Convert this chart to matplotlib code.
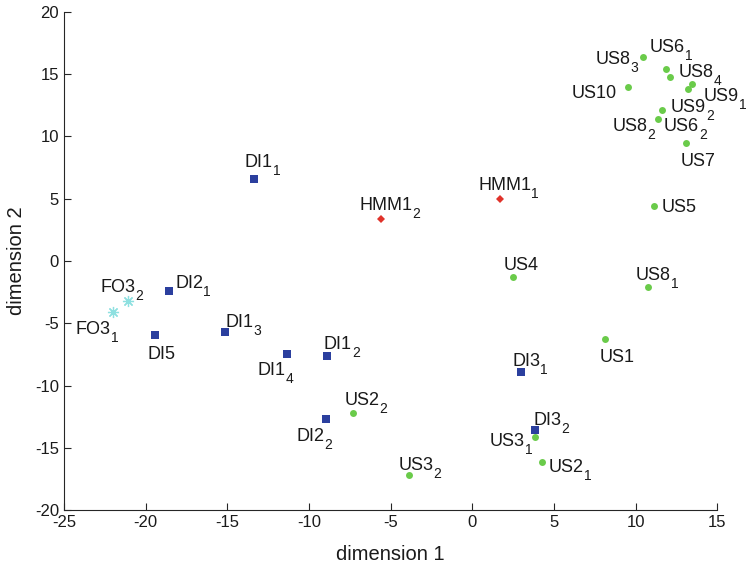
import matplotlib
matplotlib.use("Agg")
import matplotlib.pyplot as plt

plt.rcParams['font.family'] = ['Liberation Sans', 'DejaVu Sans']
plt.rcParams['axes.unicode_minus'] = False

# user study points (green circles)
us_names = ['US8_3', 'US6_1', 'US8_4', 'US10', 'US9_1', 'US6_2', 'US9_2', 'US8_2',
            'US7', 'US5', 'US4', 'US8_1', 'US1', 'US3_1', 'US2_1', 'US3_2', 'US2_2']
us_x = [10.43, 11.84, 12.09, 9.53, 13.45, 13.21, 11.62, 11.35,
        13.06, 11.12, 2.47, 10.74, 8.10, 3.84, 4.24, -3.90, -7.29]
us_y = [16.36, 15.40, 14.80, 13.95, 14.22, 13.84, 12.13, 11.43,
        9.45, 4.45, -1.26, -2.06, -6.29, -14.11, -16.16, -17.16, -12.19]

# DI points (blue squares)
di_names = ['DI1_1', 'DI2_1', 'DI5', 'DI1_3', 'DI1_4', 'DI1_2', 'DI2_2', 'DI3_1', 'DI3_2']
di_x = [-13.37, -18.55, -19.42, -15.12, -11.33, -8.90, -8.94, 2.99, 3.85]
di_y = [6.59, -2.44, -5.97, -5.70, -7.49, -7.60, -12.72, -8.90, -13.57]

# HMM points (red diamonds)
hmm_names = ['HMM1_1', 'HMM1_2']
hmm_x = [1.70, -5.61]
hmm_y = [5.00, 3.37]

# FO points (cyan asterisks)
fo_names = ['FO3_1', 'FO3_2']
fo_x = [-22.0, -21.10]
fo_y = [-4.06, -3.19]

# text offsets in pixels (dx right, dy up) from the marker to the label baseline
label_offsets = {
    'US8_3': (-47, -7), 'US6_1': (-16, 17), 'US8_4': (9, 0), 'US10': (-56, -11),
    'US9_1': (12, -17), 'US6_2': (-24, -42), 'US9_2': (9, -2), 'US8_2': (-45, -12),
    'US7': (-5, -23), 'US5': (8, -6), 'US4': (-9, 7), 'US8_1': (-12, 7),
    'US1': (-5, -23), 'US3_1': (-45, -9), 'US2_1': (7, -10), 'US3_2': (-10, 5),
    'US2_2': (-9, 8),
    'DI1_1': (-9, 12), 'DI2_1': (6, 3), 'DI5': (-8, -24), 'DI1_3': (0, 5),
    'DI1_4': (-30, -21), 'DI1_2': (-3, 7), 'DI2_2': (-30, -22), 'DI3_1': (-9, 6),
    'DI3_2': (-2, 5),
    'HMM1_1': (-22, 9), 'HMM1_2': (-21, 9),
    'FO3_1': (-37, -22), 'FO3_2': (-27, 9),
}

fig = plt.figure(figsize=(7.49, 5.68), dpi=100)
ax = fig.add_axes([0.0854, 0.1021, 0.8723, 0.8768])

ax.plot(us_x, us_y, 'o', color='#6acb4a', markersize=5, markeredgewidth=0)
ax.plot(di_x, di_y, 's', color='#2b3f9e', markersize=5.5, markeredgewidth=0)
ax.plot(hmm_x, hmm_y, 'D', color='#e0322a', markersize=4.5, markeredgewidth=0)
ax.plot(fo_x, fo_y, linestyle='none', marker=(8, 2, 0), color='#8ee0e0',
        markersize=8, markeredgewidth=0.9)

for names, xs, ys in [(us_names, us_x, us_y), (di_names, di_x, di_y),
                      (hmm_names, hmm_x, hmm_y), (fo_names, fo_x, fo_y)]:
    for n, x, y in zip(names, xs, ys):
        base, _, sub = n.partition('_')
        t = ax.annotate(base, (x, y), xytext=label_offsets[n],
                        textcoords='offset pixels', fontsize=13,
                        ha='left', va='baseline', color='#1a1a1a')
        if sub:
            # subscript hangs below the baseline, like MATLAB's tex labels
            ax.annotate(sub, (1, 0), xycoords=t, xytext=(0, -4),
                        textcoords='offset pixels', fontsize=10,
                        ha='left', va='baseline', color='#1a1a1a')

ax.set_xlim(-25, 15)
ax.set_ylim(-20, 20)
ax.set_xticks(range(-25, 16, 5))
ax.set_yticks(range(-20, 21, 5))
ax.spines['top'].set_visible(False)
ax.spines['right'].set_visible(False)
for s in ['left', 'bottom']:
    ax.spines[s].set_color('#262626')
    ax.spines[s].set_linewidth(0.8)
ax.tick_params(direction='in', length=5, width=0.8, labelsize=12,
               colors='#262626', labelcolor='#1a1a1a')
ax.set_xlabel('dimension 1', fontsize=14.5, color='#1a1a1a', labelpad=11)
ax.set_ylabel('dimension 2', fontsize=14.5, color='#1a1a1a')
ax.yaxis.set_label_coords(-0.058, 0.5)

fig.savefig('out.png', dpi=100)
